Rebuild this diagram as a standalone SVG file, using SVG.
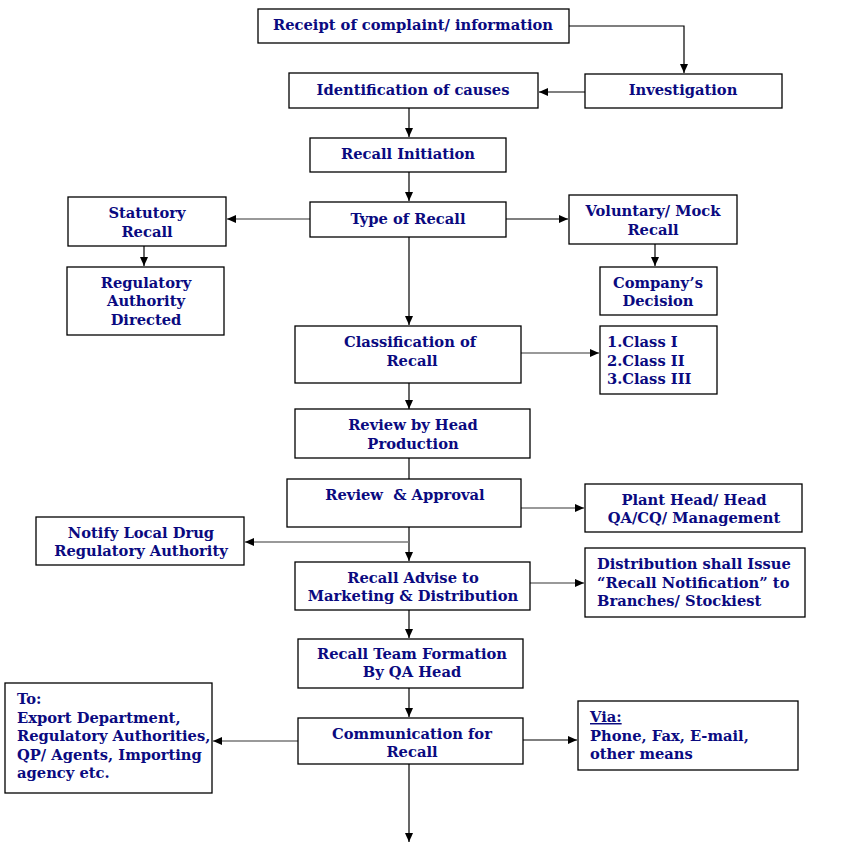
<svg xmlns="http://www.w3.org/2000/svg" width="841" height="851" viewBox="0 0 841 851">
<style>
.box{fill:#fff;stroke:#000;stroke-width:1.3}
.t{font-family:"DejaVu Serif","Liberation Serif",serif;font-weight:bold;font-size:14.7px;fill:#0a0a80;text-anchor:middle}
.l{text-anchor:start}
.c{fill:none;stroke:#000;stroke-width:1.2}
.g{stroke:#777;stroke-width:1.6}
</style>
<defs>
<marker id="a" markerWidth="10" markerHeight="10" refX="9" refY="5" orient="auto" markerUnits="userSpaceOnUse">
<path d="M0,1 L9,5 L0,9 Z" fill="#000"/>
</marker>
</defs>
<g id="connectors">
<path class="c" d="M569,26 H684 V73" marker-end="url(#a)"/>
<path class="c" d="M585,92 H539" marker-end="url(#a)"/>
<path class="c" d="M409,108 V137" marker-end="url(#a)"/>
<path class="c" d="M409,172 V201" marker-end="url(#a)"/>
<path class="c g" d="M310,219 H227" marker-end="url(#a)"/>
<path class="c" d="M506,219 H568" marker-end="url(#a)"/>
<path class="c" d="M144,246 V266" marker-end="url(#a)"/>
<path class="c" d="M655,244 V266" marker-end="url(#a)"/>
<path class="c" d="M409,237 V325" marker-end="url(#a)"/>
<path class="c g" d="M521,353 H599" marker-end="url(#a)"/>
<path class="c" d="M409,383 V409" marker-end="url(#a)"/>
<path class="c" d="M409,458 V479"/>
<path class="c g" d="M521,508 H584" marker-end="url(#a)"/>
<path class="c" d="M409,527 V561" marker-end="url(#a)"/>
<path class="c g" d="M409,542 H245" marker-end="url(#a)"/>
<path class="c g" d="M530,583 H584" marker-end="url(#a)"/>
<path class="c" d="M409,610 V638" marker-end="url(#a)"/>
<path class="c" d="M409,688 V717" marker-end="url(#a)"/>
<path class="c g" d="M298,741 H213" marker-end="url(#a)"/>
<path class="c" d="M523,740 H577" marker-end="url(#a)"/>
<path class="c" d="M409,764 V842" marker-end="url(#a)"/>
</g>
<g id="receipt"><rect class="box" x="258" y="9" width="311" height="34"/><text class="t" x="413" y="30">Receipt of complaint/ information</text></g>
<g id="investigation"><rect class="box" x="585" y="74" width="197" height="34"/><text class="t" x="683" y="95">Investigation</text></g>
<g id="identification"><rect class="box" x="289" y="73" width="249" height="35"/><text class="t" x="413" y="95">Identification of causes</text></g>
<g id="initiation"><rect class="box" x="310" y="138" width="196" height="34"/><text class="t" x="408" y="159">Recall Initiation</text></g>
<g id="type"><rect class="box" x="310" y="202" width="196" height="35"/><text class="t" x="408" y="224">Type of Recall</text></g>
<g id="statutory"><rect class="box" x="68" y="197" width="158" height="49"/><text class="t" x="147" y="218">Statutory</text><text class="t" x="147" y="237">Recall</text></g>
<g id="regulatory"><rect class="box" x="67" y="267" width="157" height="68"/><text class="t" x="146" y="288">Regulatory</text><text class="t" x="146" y="306">Authority</text><text class="t" x="146" y="325">Directed</text></g>
<g id="voluntary"><rect class="box" x="569" y="195" width="168" height="49"/><text class="t" x="653" y="216">Voluntary/ Mock</text><text class="t" x="653" y="235">Recall</text></g>
<g id="company"><rect class="box" x="600" y="267" width="117" height="48"/><text class="t" x="658" y="288">Company’s</text><text class="t" x="658" y="306">Decision</text></g>
<g id="classes"><rect class="box" x="600" y="326" width="117" height="68"/><text class="t l" x="607" y="347">1.Class I</text><text class="t l" x="607" y="366">2.Class II</text><text class="t l" x="607" y="384">3.Class III</text></g>
<g id="classification"><rect class="box" x="295" y="326" width="226" height="57"/><text class="t" x="410" y="347">Classification of</text><text class="t" x="412" y="366">Recall</text></g>
<g id="reviewhead"><rect class="box" x="295" y="409" width="235" height="49"/><text class="t" x="413" y="430">Review by Head</text><text class="t" x="413" y="449">Production</text></g>
<g id="approval"><rect class="box" x="287" y="479" width="234" height="48"/><text class="t" x="405" y="500" xml:space="preserve">Review  &amp; Approval</text></g>
<g id="planthead"><rect class="box" x="585" y="484" width="217" height="48"/><text class="t" x="694" y="505">Plant Head/ Head</text><text class="t" x="694" y="523">QA/CQ/ Management</text></g>
<g id="distribution"><rect class="box" x="585" y="548" width="220" height="69"/><text class="t l" x="597" y="569">Distribution shall Issue</text><text class="t l" x="597" y="588">“Recall Notification” to</text><text class="t l" x="597" y="606">Branches/ Stockiest</text></g>
<g id="notify"><rect class="box" x="36" y="517" width="208" height="48"/><text class="t" x="141" y="538">Notify Local Drug</text><text class="t" x="141" y="556">Regulatory Authority</text></g>
<g id="advise"><rect class="box" x="295" y="562" width="235" height="48"/><text class="t" x="413" y="583">Recall Advise to</text><text class="t" x="413" y="601">Marketing &amp; Distribution</text></g>
<g id="team"><rect class="box" x="298" y="639" width="225" height="49"/><text class="t" x="412" y="659">Recall Team Formation</text><text class="t" x="412" y="677">By QA Head</text></g>
<g id="to"><rect class="box" x="5" y="683" width="207" height="110"/><text class="t l" x="17" y="704">To:</text><text class="t l" x="17" y="723">Export Department,</text><text class="t l" x="17" y="741">Regulatory Authorities,</text><text class="t l" x="17" y="760">QP/ Agents, Importing</text><text class="t l" x="17" y="778">agency etc.</text></g>
<g id="communication"><rect class="box" x="298" y="718" width="225" height="46"/><text class="t" x="412" y="739">Communication for</text><text class="t" x="412" y="757">Recall</text></g>
<g id="via"><rect class="box" x="578" y="701" width="220" height="69"/><text class="t l" x="590" y="722" text-decoration="underline">Via:</text><text class="t l" x="590" y="741">Phone, Fax, E-mail,</text><text class="t l" x="590" y="759">other means</text></g>
</svg>
